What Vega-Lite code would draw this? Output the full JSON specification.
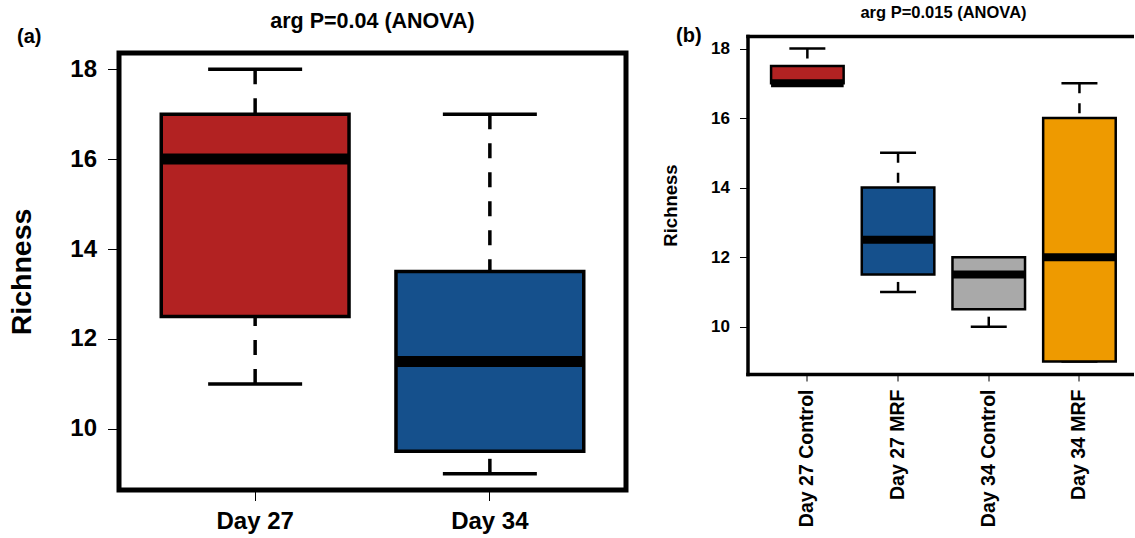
{
  "$schema": "https://vega.github.io/schema/vega-lite/v6.json",
  "padding": {"left": 5, "top": 4, "right": 0, "bottom": 0},
  "bounds": "flush",
  "spacing": 121.5,
  "resolve": {"scale": {"fill": "independent"}},
  "config": {
    "font": "Liberation Sans",
    "view": {"stroke": null},
    "axis": {"grid": false, "labelColor": "black", "titleColor": "black", "tickColor": "black", "domainColor": "black", "labelFontWeight": "bold", "titleFontWeight": "bold"}
  },
  "hconcat": [
    {
      "width": 507,
      "height": 437,
      "view": {"stroke": "black", "strokeWidth": 5, "fill": null},
      "title": {"text": "arg P=0.04 (ANOVA)", "fontSize": 21.5, "fontWeight": "bold", "anchor": "middle", "offset": -23, "baseline": "alphabetic", "color": "black"},
      "data": {"values": [
        {"group": "Day 27", "min": 11, "q1": 12.5, "median": 16, "q3": 17, "max": 18},
        {"group": "Day 34", "min": 9, "q1": 9.5, "median": 11.5, "q3": 13.5, "max": 17}
      ]},
      "resolve": {"axis": {"x": "independent"}},
      "layer": [
        {
          "mark": {"type": "rule", "strokeDash": [15, 14], "strokeWidth": 3.5, "color": "black"},
          "encoding": {
            "x": {"field": "group", "type": "nominal", "sort": null, "scale": {"type": "band", "paddingInner": 0, "paddingOuter": 0.08},
              "axis": {"orient": "bottom", "title": null, "domain": false, "tickSize": 10.5, "tickWidth": 1, "labelFontSize": 24, "labelPadding": 9, "labelAngle": 0}},
            "y": {"field": "max", "type": "quantitative", "scale": {"domain": [8.64, 18.36], "nice": false, "zero": false}, "title": "Richness",
              "axis": {"orient": "left", "domain": false, "values": [10, 12, 14, 16, 18], "tickSize": 11.5, "tickWidth": 1, "labelFontSize": 24, "labelPadding": 11, "titleFontSize": 28.5, "titlePadding": 33}},
            "y2": {"field": "q3"}
          }
        },
        {
          "mark": {"type": "rule", "strokeDash": [15, 14], "strokeWidth": 3.5, "color": "black"},
          "encoding": {
            "x": {"field": "group", "type": "nominal", "sort": null, "scale": {"type": "band", "paddingInner": 0, "paddingOuter": 0.08},
              "axis": {"orient": "top", "domain": false, "ticks": false, "labels": false, "title": "(a)", "titleX": -102.5, "titleY": -11, "titleAlign": "left", "titleBaseline": "alphabetic", "titleFontSize": 20, "titleAngle": 0}},
            "y": {"field": "min", "type": "quantitative", "title": "Richness"},
            "y2": {"field": "q1"}
          }
        },
        {
          "mark": {"type": "tick", "size": 94, "thickness": 3.5, "color": "black", "opacity": 1},
          "encoding": {
            "x": {"field": "group", "type": "nominal", "sort": null, "axis": null},
            "y": {"field": "max", "type": "quantitative", "title": "Richness"}
          }
        },
        {
          "mark": {"type": "tick", "size": 94, "thickness": 3.5, "color": "black", "opacity": 1},
          "encoding": {
            "x": {"field": "group", "type": "nominal", "sort": null, "axis": null},
            "y": {"field": "min", "type": "quantitative", "title": "Richness"}
          }
        },
        {
          "mark": {"type": "bar", "width": {"band": 0.8}, "stroke": "black", "strokeWidth": 3.5, "opacity": 1},
          "encoding": {
            "x": {"field": "group", "type": "nominal", "sort": null, "axis": null},
            "y": {"field": "q1", "type": "quantitative", "title": "Richness"},
            "y2": {"field": "q3"},
            "fill": {"field": "group", "type": "nominal", "legend": null, "scale": {"domain": ["Day 27", "Day 34"], "range": ["#B22222", "#15508C"]}}
          }
        },
        {
          "mark": {"type": "tick", "size": 188, "thickness": 11, "color": "black", "opacity": 1},
          "encoding": {
            "x": {"field": "group", "type": "nominal", "sort": null, "axis": null},
            "y": {"field": "median", "type": "quantitative", "title": "Richness"}
          }
        }
      ]
    },
    {
      "width": 386,
      "height": 321,
      "title": {"text": "arg P=0.015 (ANOVA)", "fontSize": 16.5, "fontWeight": "bold", "anchor": "middle", "offset": -9, "baseline": "alphabetic", "dx": 3, "color": "black"},
      "data": {"values": [
        {"group": "Day 27 Control", "min": 17, "q1": 17, "median": 17, "q3": 17.5, "max": 18},
        {"group": "Day 27 MRF", "min": 11, "q1": 11.5, "median": 12.5, "q3": 14, "max": 15},
        {"group": "Day 34 Control", "min": 10, "q1": 10.5, "median": 11.5, "q3": 12, "max": 12},
        {"group": "Day 34 MRF", "min": 9, "q1": 9, "median": 12, "q3": 16, "max": 17}
      ]},
      "resolve": {"axis": {"x": "independent"}},
      "layer": [
        {
          "mark": {"type": "rule", "strokeDash": [10, 10], "strokeWidth": 2.5, "color": "black"},
          "encoding": {
            "x": {"field": "group", "type": "nominal", "sort": null, "scale": {"type": "band", "paddingInner": 0, "paddingOuter": 0.128, "align": 0.625},
              "axis": {"orient": "bottom", "title": null, "domain": true, "domainWidth": 3.5, "domainCap": "square", "tickSize": 7, "tickWidth": 1, "labelFontSize": 19.5, "labelPadding": 8, "labelAngle": 270}},
            "y": {"field": "max", "type": "quantitative", "scale": {"domain": [8.64, 18.36], "nice": false, "zero": false, "range": [321, -17]}, "title": "Richness",
              "axis": {"orient": "left", "domain": true, "domainWidth": 3.5, "domainCap": "square", "values": [10, 12, 14, 16, 18], "tickSize": 8, "tickWidth": 1, "labelFontSize": 17, "labelPadding": 10, "titleFontSize": 18.5, "titlePadding": 30}},
            "y2": {"field": "q3"}
          }
        },
        {
          "mark": {"type": "rule", "strokeDash": [10, 10], "strokeWidth": 2.5, "color": "black"},
          "encoding": {
            "x": {"field": "group", "type": "nominal", "sort": null, "scale": {"type": "band", "paddingInner": 0, "paddingOuter": 0.128, "align": 0.625},
              "axis": {"orient": "top", "domain": true, "domainWidth": 3.5, "domainCap": "square", "offset": 17, "ticks": false, "labels": false, "title": "(b)", "titleX": -72, "titleY": 5, "titleAlign": "left", "titleBaseline": "alphabetic", "titleFontSize": 20, "titleAngle": 0}},
            "y": {"field": "min", "type": "quantitative", "title": "Richness"},
            "y2": {"field": "q1"}
          }
        },
        {
          "mark": {"type": "tick", "size": 36, "thickness": 2.5, "color": "black", "opacity": 1},
          "encoding": {
            "x": {"field": "group", "type": "nominal", "sort": null, "axis": null},
            "y": {"field": "max", "type": "quantitative", "title": "Richness"}
          }
        },
        {
          "mark": {"type": "tick", "size": 36, "thickness": 2.5, "color": "black", "opacity": 1},
          "encoding": {
            "x": {"field": "group", "type": "nominal", "sort": null, "axis": null},
            "y": {"field": "min", "type": "quantitative", "title": "Richness"}
          }
        },
        {
          "mark": {"type": "bar", "width": {"band": 0.8}, "stroke": "black", "strokeWidth": 2.5, "opacity": 1},
          "encoding": {
            "x": {"field": "group", "type": "nominal", "sort": null, "axis": null},
            "y": {"field": "q1", "type": "quantitative", "title": "Richness"},
            "y2": {"field": "q3"},
            "fill": {"field": "group", "type": "nominal", "legend": null, "scale": {"domain": ["Day 27 Control", "Day 27 MRF", "Day 34 Control", "Day 34 MRF"], "range": ["#B22222", "#15508C", "#A9A9A9", "#EE9A00"]}}
          }
        },
        {
          "mark": {"type": "tick", "size": 72.6, "thickness": 8, "color": "black", "opacity": 1},
          "encoding": {
            "x": {"field": "group", "type": "nominal", "sort": null, "axis": null},
            "y": {"field": "median", "type": "quantitative", "title": "Richness"}
          }
        }
      ]
    }
  ]
}
